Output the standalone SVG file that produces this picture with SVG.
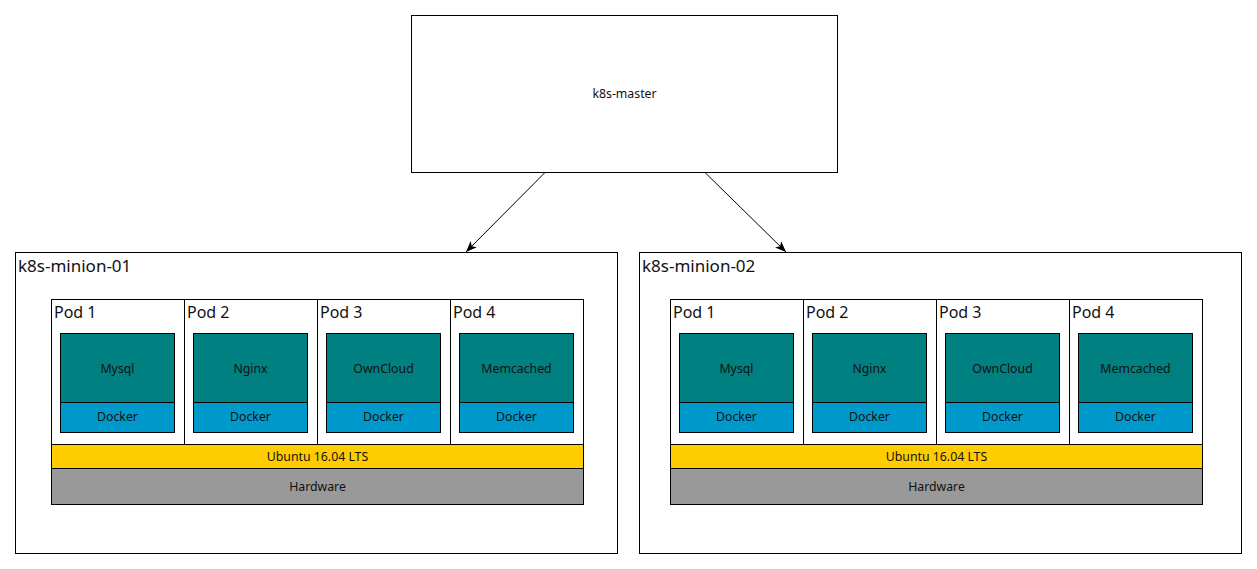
<svg xmlns="http://www.w3.org/2000/svg" width="1257" height="569" viewBox="0 0 1257 569">
<style>
text{font-family:"Noto Sans","Open Sans","DejaVu Sans",sans-serif;fill:#111}
.box{fill:#fff;stroke:#000;stroke-width:1}
.app{fill:#008080;stroke:#000;stroke-width:1}
.dock{fill:#0099CC;stroke:#000;stroke-width:1}
.os{fill:#FFCC00;stroke:#000;stroke-width:1}
.hw{fill:#999999;stroke:#000;stroke-width:1}
.sm{font-size:12.3px;text-anchor:middle}
.pod{font-size:16px}
.host{font-size:17px}
.div{stroke:#000;stroke-width:1}
.conn{stroke:#000;stroke-width:1;fill:none}
</style>
<defs>
<marker id="arr" viewBox="0 0 10 8" refX="10" refY="4" markerWidth="11" markerHeight="9" markerUnits="userSpaceOnUse" orient="auto">
<path d="M10,4 L0,0 L2.5,4 L0,8 Z" fill="#000"/>
</marker>
</defs>
<rect width="1257" height="569" fill="#fff"/>

<g id="k8s-master">
<rect class="box" x="411.5" y="15.5" width="426" height="157"/>
<text class="sm" x="624.5" y="98">k8s-master</text>
</g>

<g id="k8s-minion-01">
<rect class="box" x="15.5" y="252.5" width="602" height="301"/>
<text class="host" x="18" y="272">k8s-minion-01</text>
<rect class="box" x="51.5" y="299.5" width="532" height="145"/>
<line class="div" x1="184.5" y1="299.5" x2="184.5" y2="444.5"/>
<line class="div" x1="317.5" y1="299.5" x2="317.5" y2="444.5"/>
<line class="div" x1="450.5" y1="299.5" x2="450.5" y2="444.5"/>
<g id="m1-pod1">
<text class="pod" x="54" y="318">Pod 1</text>
<rect class="app" x="60.5" y="333.5" width="114" height="69"/>
<text class="sm" x="117.5" y="372.5">Mysql</text>
<rect class="dock" x="60.5" y="402.5" width="114" height="30"/>
<text class="sm" x="117.5" y="421">Docker</text>
</g>
<g id="m1-pod2">
<text class="pod" x="187" y="318">Pod 2</text>
<rect class="app" x="193.5" y="333.5" width="114" height="69"/>
<text class="sm" x="250.5" y="372.5">Nginx</text>
<rect class="dock" x="193.5" y="402.5" width="114" height="30"/>
<text class="sm" x="250.5" y="421">Docker</text>
</g>
<g id="m1-pod3">
<text class="pod" x="320" y="318">Pod 3</text>
<rect class="app" x="326.5" y="333.5" width="114" height="69"/>
<text class="sm" x="383.5" y="372.5">OwnCloud</text>
<rect class="dock" x="326.5" y="402.5" width="114" height="30"/>
<text class="sm" x="383.5" y="421">Docker</text>
</g>
<g id="m1-pod4">
<text class="pod" x="453" y="318">Pod 4</text>
<rect class="app" x="459.5" y="333.5" width="114" height="69"/>
<text class="sm" x="516.5" y="372.5">Memcached</text>
<rect class="dock" x="459.5" y="402.5" width="114" height="30"/>
<text class="sm" x="516.5" y="421">Docker</text>
</g>
<rect class="os" x="51.5" y="444.5" width="532" height="24"/>
<text class="sm" x="317.5" y="460.5">Ubuntu 16.04 LTS</text>
<rect class="hw" x="51.5" y="468.5" width="532" height="36"/>
<text class="sm" x="317.5" y="490.5">Hardware</text>
</g>

<g id="k8s-minion-02">
<rect class="box" x="639.5" y="252.5" width="602" height="301"/>
<text class="host" x="642" y="272">k8s-minion-02</text>
<rect class="box" x="670.5" y="299.5" width="532" height="145"/>
<line class="div" x1="803.5" y1="299.5" x2="803.5" y2="444.5"/>
<line class="div" x1="936.5" y1="299.5" x2="936.5" y2="444.5"/>
<line class="div" x1="1069.5" y1="299.5" x2="1069.5" y2="444.5"/>
<g id="m2-pod1">
<text class="pod" x="673" y="318">Pod 1</text>
<rect class="app" x="679.5" y="333.5" width="114" height="69"/>
<text class="sm" x="736.5" y="372.5">Mysql</text>
<rect class="dock" x="679.5" y="402.5" width="114" height="30"/>
<text class="sm" x="736.5" y="421">Docker</text>
</g>
<g id="m2-pod2">
<text class="pod" x="806" y="318">Pod 2</text>
<rect class="app" x="812.5" y="333.5" width="114" height="69"/>
<text class="sm" x="869.5" y="372.5">Nginx</text>
<rect class="dock" x="812.5" y="402.5" width="114" height="30"/>
<text class="sm" x="869.5" y="421">Docker</text>
</g>
<g id="m2-pod3">
<text class="pod" x="939" y="318">Pod 3</text>
<rect class="app" x="945.5" y="333.5" width="114" height="69"/>
<text class="sm" x="1002.5" y="372.5">OwnCloud</text>
<rect class="dock" x="945.5" y="402.5" width="114" height="30"/>
<text class="sm" x="1002.5" y="421">Docker</text>
</g>
<g id="m2-pod4">
<text class="pod" x="1072" y="318">Pod 4</text>
<rect class="app" x="1078.5" y="333.5" width="114" height="69"/>
<text class="sm" x="1135.5" y="372.5">Memcached</text>
<rect class="dock" x="1078.5" y="402.5" width="114" height="30"/>
<text class="sm" x="1135.5" y="421">Docker</text>
</g>
<rect class="os" x="670.5" y="444.5" width="532" height="24"/>
<text class="sm" x="936.5" y="460.5">Ubuntu 16.04 LTS</text>
<rect class="hw" x="670.5" y="468.5" width="532" height="36"/>
<text class="sm" x="936.5" y="490.5">Hardware</text>
</g>

<g id="connectors">
<line class="conn" x1="545" y1="172.5" x2="466" y2="252" marker-end="url(#arr)"/>
<line class="conn" x1="705" y1="172.5" x2="786" y2="252" marker-end="url(#arr)"/>
</g>
</svg>
